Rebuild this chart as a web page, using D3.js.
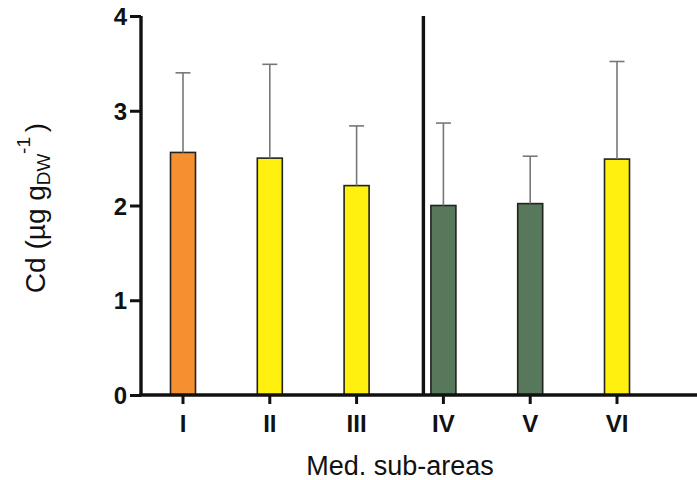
<!DOCTYPE html>
<html>
<head>
<meta charset="utf-8">
<script src="https://cdn.jsdelivr.net/npm/d3@7"></script>
<style>
  body { margin: 0; background: #fff; }
  svg { font-family: Arial, "Liberation Sans", sans-serif; }
</style>
</head>
<body>
<svg id="chart" width="697" height="480"></svg>
<script>
// Data
const areas = ['I', 'II', 'III', 'IV', 'V', 'VI'];
const means = [2.56, 2.50, 2.21, 2.00, 2.02, 2.49];
const sdUpper = [3.40, 3.49, 2.84, 2.87, 2.52, 3.52];
const barColors = ['#f4902f', '#fff00f', '#fff00f', '#57785a', '#57785a', '#fff00f'];
const yTicks = [0, 1, 2, 3, 4];

const svg = d3.select('#chart');
const plotLeft = 141, plotRight = 697, plotTop = 16, plotBottom = 395;

const x = d3.scaleBand()
    .domain(areas)
    .range([108.7, 691.3])
    .padding(0.712);

const y = d3.scaleLinear()
    .domain([0, 4])
    .range([plotBottom, plotTop]);

// bars
svg.append('g')
  .selectAll('rect')
  .data(areas)
  .join('rect')
    .attr('x', d => x(d))
    .attr('y', (d, i) => y(means[i]))
    .attr('width', x.bandwidth())
    .attr('height', (d, i) => y(0) - y(means[i]))
    .attr('fill', (d, i) => barColors[i])
    .attr('stroke', '#222')
    .attr('stroke-width', 1.6);

// error bars (upper only)
const err = svg.append('g').attr('stroke', '#777').attr('stroke-width', 1.6);
areas.forEach((d, i) => {
    const cx = x(d) + x.bandwidth() / 2;
    err.append('line')
        .attr('x1', cx).attr('x2', cx)
        .attr('y1', y(means[i])).attr('y2', y(sdUpper[i]));
    err.append('line')
        .attr('x1', cx - 7.5).attr('x2', cx + 7.5)
        .attr('y1', y(sdUpper[i])).attr('y2', y(sdUpper[i]));
});

// y axis
const yAxis = svg.append('g')
    .attr('transform', `translate(${plotLeft},0)`)
    .call(d3.axisLeft(y).tickValues(yTicks).tickSize(11).tickPadding(3).tickFormat(d3.format('d')));
yAxis.select('.domain').attr('d', `M0,${plotTop}V${plotBottom}`).attr('stroke', '#111').attr('stroke-width', 3.4);
yAxis.selectAll('.tick line').attr('stroke', '#111').attr('stroke-width', 3);
yAxis.selectAll('.tick text')
    .attr('font-size', 24).attr('font-weight', 'bold').attr('fill', '#111')
    .attr('dy', '0.36em');

// x axis
const xAxis = svg.append('g')
    .attr('transform', `translate(0,${plotBottom})`)
    .call(d3.axisBottom(x).tickSize(9).tickPadding(11));
xAxis.select('.domain').attr('d', `M${plotLeft - 1.7},0H${plotRight}`).attr('stroke', '#111').attr('stroke-width', 3.4);
xAxis.selectAll('.tick line').attr('stroke', '#111').attr('stroke-width', 3);
xAxis.selectAll('.tick text')
    .attr('font-size', 24).attr('font-weight', 'bold').attr('fill', '#111');

// vertical divider between the two groups of sub-areas
const divX = x('IV') - 7.5;
svg.append('line')
    .attr('x1', divX).attr('x2', divX)
    .attr('y1', plotTop).attr('y2', plotBottom)
    .attr('stroke', '#111').attr('stroke-width', 3.4);

// axis titles
svg.append('text')
    .attr('x', 400).attr('y', 475)
    .attr('text-anchor', 'middle')
    .attr('font-size', 27).attr('fill', '#111')
    .text('Med. sub-areas');

const yt = svg.append('text')
    .attr('transform', 'translate(45,208) rotate(-90)')
    .attr('text-anchor', 'middle')
    .attr('font-size', 28).attr('fill', '#111');
yt.append('tspan').text('Cd (µg g');
yt.append('tspan').attr('font-size', 19).attr('dy', 5).text('DW');
yt.append('tspan').attr('font-size', 19).attr('dy', -20).text('-1');
yt.append('tspan').attr('dy', 15).attr('dx', -3).text(' )');
</script>
</body>
</html>
